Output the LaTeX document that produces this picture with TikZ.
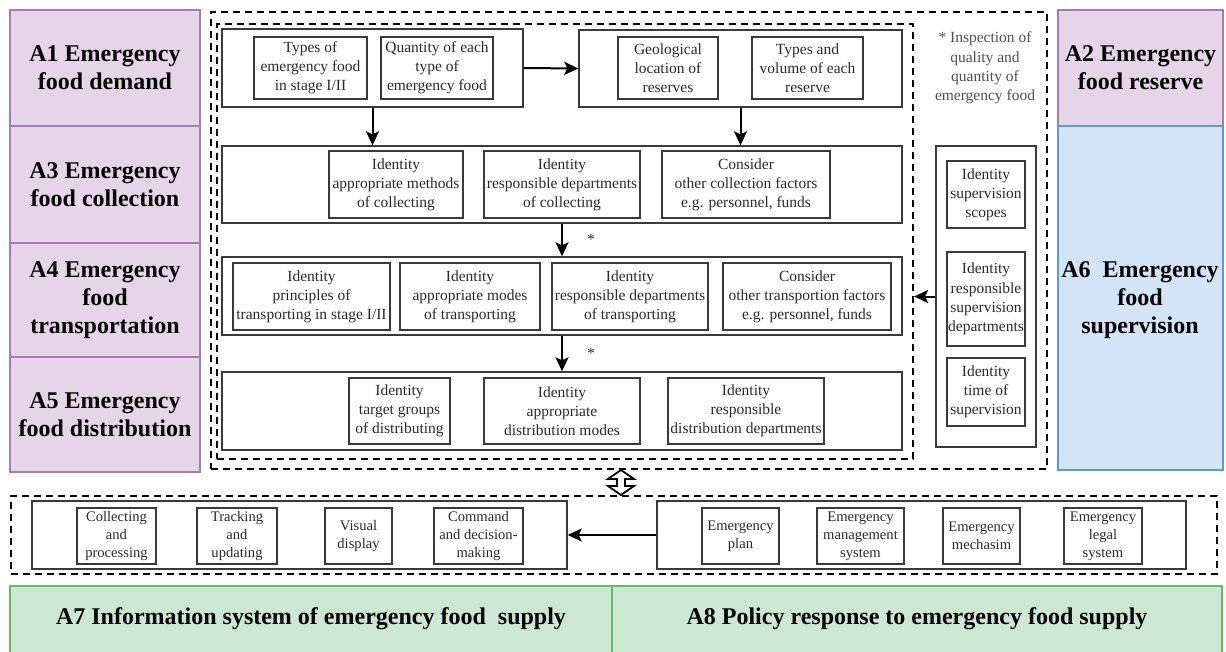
\documentclass[tikz,border=0pt]{standalone}
\usepackage{fontspec}
\setmainfont{Liberation Serif}
\usetikzlibrary{arrows.meta}
\definecolor{pfill}{HTML}{E6D5E8}
\definecolor{pline}{HTML}{A67CB5}
\definecolor{bfill}{HTML}{D3E4F7}
\definecolor{bline}{HTML}{5B9BD5}
\definecolor{gfill}{HTML}{CDE8D2}
\definecolor{gline}{HTML}{6AB86A}
\definecolor{boxline}{HTML}{3A3A3A}
\definecolor{txt}{HTML}{2A2A2A}
\definecolor{note}{HTML}{505050}
\newcommand\biglab{\fontsize{24}{28.3}\selectfont\bfseries}
\newcommand\smalltxt{\fontsize{15.5}{19.2}\selectfont}
\newcommand\tinytxt{\fontsize{14.6}{18.2}\selectfont}
\newcommand\mybox[7]{%
  \pgfmathsetmacro\bxw{#4-#2}\pgfmathsetmacro\bxh{#5-#3}%
  \pgfmathsetmacro\bxx{(#2+#4)/2}\pgfmathsetmacro\bxy{(#3+#5)/2}%
  \node[#6, minimum width=\bxw pt, minimum height=\bxh pt] (#1) at (\bxx,\bxy) {#7};}
\tikzset{
  lab/.style={line width=1.6pt, inner sep=0pt, align=center, font=\biglab, text=black},
  purp/.style={lab, draw=pline, fill=pfill},
  blu/.style={lab, draw=bline, fill=bfill},
  grn/.style={lab, draw=gline, fill=gfill},
  sbox/.style={draw=boxline, line width=1.3pt, inner sep=0pt, align=center, font=\smalltxt, text=txt},
  tbox/.style={sbox, font=\tinytxt},
  rowbox/.style={draw=boxline, line width=1.4pt, inner sep=0pt},
  dbox/.style={draw=black, line width=2.2pt, dash pattern=on 7pt off 5pt, inner sep=0pt},
  arr/.style={-{Stealth[length=14pt,width=13pt,inset=3pt]}, line width=2pt, draw=black},
  star/.style={font=\smalltxt, text=txt, inner sep=0pt},
  notetxt/.style={font=\smalltxt, text=note, align=center, inner sep=0pt}
}
\begin{document}
\begin{tikzpicture}[x=1pt,y=-1pt]
\useasboundingbox (0,0) rectangle (1226,651);
% left labels
\mybox{A1}{10}{10}{200}{126}{purp}{A1 Emergency\\food demand}
\mybox{A3}{10}{126}{200}{243}{purp}{A3 Emergency\\food collection}
\mybox{A4}{10}{243}{200}{357}{purp}{A4 Emergency\\food\\transportation}
\mybox{A5}{10}{357}{200}{472}{purp}{A5 Emergency\\food distribution}
% right labels
\mybox{A2}{1058}{10}{1223}{126}{purp}{A2 Emergency\\food reserve}
\mybox{A6}{1058}{126}{1223}{470}{blu}{}
\node[font=\biglab, align=center] (A6t) at (1140,300) {A6~~Emergency\\food\\supervision};
% bottom labels
\mybox{A7}{10}{586}{612}{660}{grn}{}
\mybox{A8}{612}{586}{1222}{660}{grn}{}
\node[font=\biglab] (A7t) at (311,619) {A7 Information system of emergency food~~supply};
\node[font=\biglab] (A8t) at (917,619) {A8 Policy response to emergency food supply};
% dashed containers
\mybox{outer}{211}{12}{1047}{469}{dbox}{}
\mybox{inner}{217}{24}{913}{459}{dbox}{}
\mybox{bottom}{11}{496}{1217}{574}{dbox}{}
% rows
\mybox{dem}{222}{29}{523}{107}{rowbox}{}
\mybox{res}{579}{30}{902}{107}{rowbox}{}
\mybox{col}{222}{146}{902}{223}{rowbox}{}
\mybox{tra}{222}{257}{902}{335}{rowbox}{}
\mybox{dis}{222}{372}{902}{450}{rowbox}{}
\mybox{sup}{936}{146}{1036}{447}{rowbox}{}
\mybox{info}{32}{501}{567}{569}{rowbox}{}
\mybox{pol}{657}{501}{1186}{569}{rowbox}{}
% row 1
\mybox{types}{254}{37}{367}{99}{sbox}{Types of\\emergency food\\in stage I/II}
\mybox{quant}{381}{37}{493}{99}{sbox}{Quantity of each\\type of\\emergency food}
\mybox{geo}{618}{37}{718}{99}{sbox}{Geological\\location of\\reserves}
\mybox{vol}{752}{37}{863}{99}{sbox}{Types and\\volume of each\\reserve}
% row 2
\mybox{cmeth}{329}{151}{463}{218}{sbox}{Identity\\appropriate methods\\of collecting}
\mybox{cdep}{484}{151}{640}{218}{sbox}{Identity\\responsible departments\\of collecting}
\mybox{cfac}{662}{151}{830}{218}{sbox}{Consider\\other collection factors\\e.g. personnel, funds}
% row 3
\mybox{tpri}{233}{263}{390}{330}{sbox}{Identity\\principles of\\transporting in stage I/II}
\mybox{tmod}{400}{263}{540}{330}{sbox}{Identity\\appropriate modes\\of transporting}
\mybox{tdep}{552}{263}{708}{330}{sbox}{Identity\\responsible departments\\of transporting}
\mybox{tfac}{723}{263}{891}{330}{sbox}{Consider\\other transportion factors\\e.g. personnel, funds}
% row 4
\mybox{dtar}{349}{378}{450}{444}{sbox}{Identity\\target groups\\of distributing}
\mybox{dmod}{484}{378}{640}{444}{sbox}{Identity\\appropriate\\distribution modes}
\mybox{ddep}{668}{378}{824}{444}{sbox}{Identity\\responsible\\distribution departments}
% supervision
\mybox{sscope}{947}{161}{1025}{228}{sbox}{Identity\\supervision\\scopes}
\mybox{sdep}{947}{252}{1025}{346}{sbox}{Identity\\responsible\\supervision\\departments}
\mybox{stime}{947}{358}{1025}{426}{sbox}{Identity\\time of\\supervision}
% note
\node[notetxt] (note) at (985,68) {* Inspection of\\quality and\\quantity of\\emergency food};
% info system
\mybox{icol}{77}{508}{156}{564}{tbox}{Collecting\\and\\processing}
\mybox{itra}{197}{508}{277}{564}{tbox}{Tracking\\and\\updating}
\mybox{ivis}{325}{508}{392}{564}{tbox}{Visual\\display}
\mybox{icom}{434}{508}{523}{564}{tbox}{Command\\and decision-\\making}
% policy
\mybox{pplan}{702}{508}{779}{564}{tbox}{Emergency\\plan}
\mybox{pman}{817}{508}{904}{564}{tbox}{Emergency\\management\\system}
\mybox{pmec}{943}{508}{1020}{564}{tbox}{Emergency\\mechasim}
\mybox{pleg}{1064}{508}{1142}{564}{tbox}{Emergency\\legal\\system}
% stars
\node[star] (st1) at (591,239) {*};
\node[star] (st2) at (591,353) {*};
% connectors
\draw[arr] (dem.east) -- (res.west);
\draw[arr] (dem.south) -- (dem.south |- col.north);
\draw[arr] (res.south) -- (res.south |- col.north);
\draw[arr] (col.south) -- (tra.north);
\draw[arr] (tra.south) -- (dis.north);
\draw[arr] (sup.west) -- (sup.west -| inner.east);
\draw[arr] (pol.west) -- (info.east);
% hollow double arrow between the two dashed containers
\draw[line width=1.8pt, fill=white, line join=miter]
  (621,470) -- (634,479) -- (625,479) -- (625,486) -- (634,486) -- (621,495)
  -- (608,486) -- (617,486) -- (617,479) -- (608,479) -- cycle;
\end{tikzpicture}
\end{document}
